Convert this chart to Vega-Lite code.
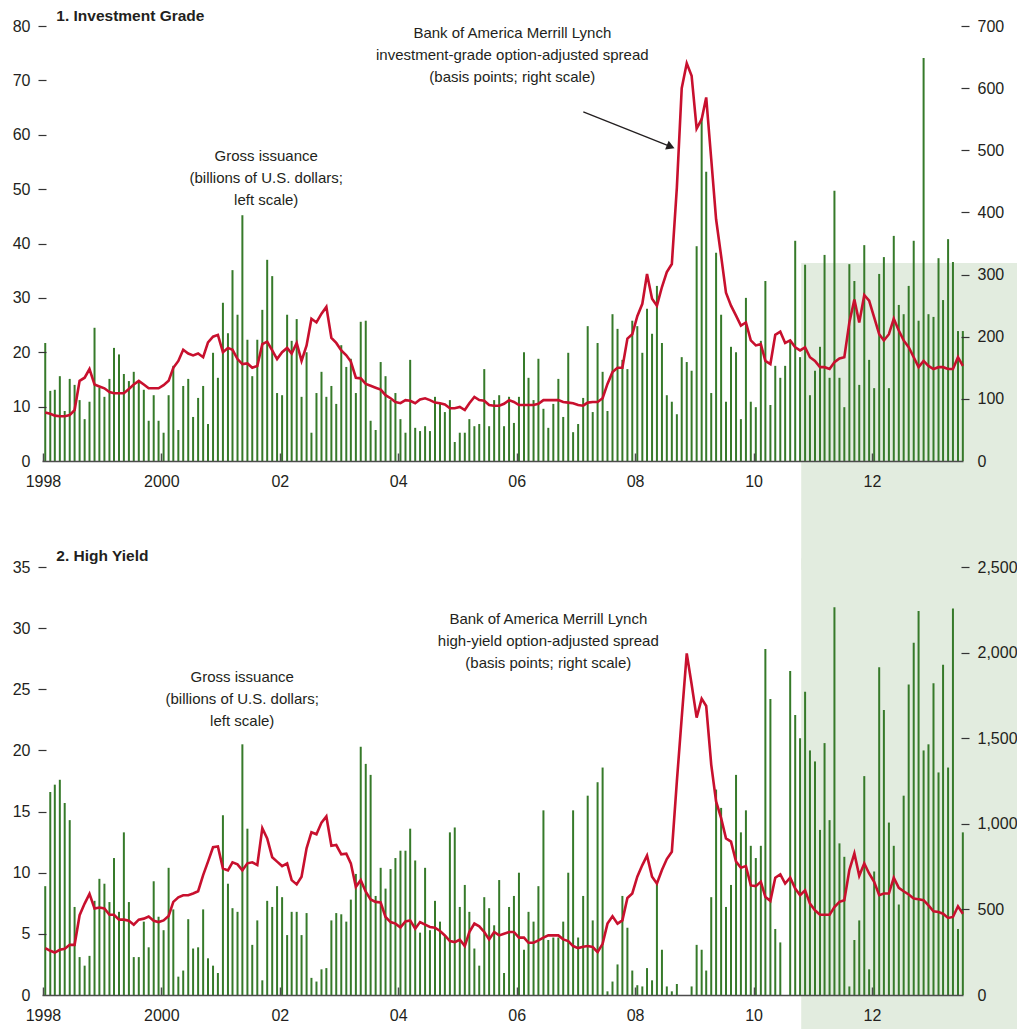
{
  "$schema": "https://vega.github.io/schema/vega-lite/v6.json",
  "background": "white",
  "padding": {"left": 12, "top": 8, "right": 0, "bottom": 0},
  "bounds": "flush",
  "spacing": 106,
  "config": {
    "view": {"stroke": null},
    "font": "Liberation Sans",
    "axis": {"labelFont": "Liberation Sans", "labelFontSize": 16, "labelColor": "#231f20", "grid": false, "zindex": 1, "tickColor": "#333333", "domain": false}
  },
  "datasets": {
    "m": [
      {"d":"1998-01-15","ig":21.7,"igs":78,"hy":8.9,"hys":274},
      {"d":"1998-02-15","ig":12.9,"igs":76,"hy":16.6,"hys":258},
      {"d":"1998-03-15","ig":13.1,"igs":73,"hy":17.2,"hys":248},
      {"d":"1998-04-15","ig":15.6,"igs":72,"hy":17.6,"hys":264},
      {"d":"1998-05-15","ig":9.2,"igs":72,"hy":15.7,"hys":270},
      {"d":"1998-06-15","ig":15.1,"igs":74,"hy":14.3,"hys":293},
      {"d":"1998-07-15","ig":14.0,"igs":82,"hy":7.2,"hys":293},
      {"d":"1998-08-15","ig":11.2,"igs":129,"hy":3.1,"hys":466},
      {"d":"1998-09-15","ig":7.7,"igs":134,"hy":2.4,"hys":534},
      {"d":"1998-10-15","ig":10.9,"igs":148,"hy":3.2,"hys":591},
      {"d":"1998-11-15","ig":24.5,"igs":123,"hy":7.7,"hys":505},
      {"d":"1998-12-15","ig":13.5,"igs":120,"hy":9.5,"hys":511},
      {"d":"1999-01-15","ig":11.8,"igs":117,"hy":9.1,"hys":505},
      {"d":"1999-02-15","ig":15.1,"igs":111,"hy":7.6,"hys":469},
      {"d":"1999-03-15","ig":20.8,"igs":109,"hy":11.2,"hys":469},
      {"d":"1999-04-15","ig":19.6,"igs":109,"hy":6.8,"hys":440},
      {"d":"1999-05-15","ig":16.0,"igs":109,"hy":13.3,"hys":440},
      {"d":"1999-06-15","ig":14.7,"igs":116,"hy":7.6,"hys":434},
      {"d":"1999-07-15","ig":16.4,"igs":123,"hy":3.1,"hys":411},
      {"d":"1999-08-15","ig":14.5,"igs":129,"hy":3.1,"hys":440},
      {"d":"1999-09-15","ig":13.1,"igs":123,"hy":6.0,"hys":446},
      {"d":"1999-10-15","ig":7.4,"igs":117,"hy":3.9,"hys":458},
      {"d":"1999-11-15","ig":12.1,"igs":117,"hy":9.3,"hys":434},
      {"d":"1999-12-15","ig":7.4,"igs":117,"hy":6.4,"hys":426},
      {"d":"2000-01-15","ig":5.2,"igs":122,"hy":5.3,"hys":436},
      {"d":"2000-02-15","ig":12.1,"igs":129,"hy":10.4,"hys":462},
      {"d":"2000-03-15","ig":17.5,"igs":150,"hy":7.0,"hys":544},
      {"d":"2000-04-15","ig":5.7,"igs":161,"hy":1.5,"hys":571},
      {"d":"2000-05-15","ig":13.8,"igs":179,"hy":2.0,"hys":583},
      {"d":"2000-06-15","ig":15.1,"igs":173,"hy":6.2,"hys":583},
      {"d":"2000-07-15","ig":8.1,"igs":170,"hy":3.8,"hys":593},
      {"d":"2000-08-15","ig":11.6,"igs":173,"hy":3.9,"hys":606},
      {"d":"2000-09-15","ig":13.8,"igs":167,"hy":7.0,"hys":700},
      {"d":"2000-10-15","ig":6.8,"igs":191,"hy":3.0,"hys":779},
      {"d":"2000-11-15","ig":19.9,"igs":200,"hy":2.4,"hys":863},
      {"d":"2000-12-15","ig":15.3,"igs":203,"hy":1.8,"hys":867},
      {"d":"2001-01-15","ig":29.1,"igs":175,"hy":14.7,"hys":739},
      {"d":"2001-02-15","ig":23.5,"igs":182,"hy":9.1,"hys":728},
      {"d":"2001-03-15","ig":35.1,"igs":179,"hy":7.1,"hys":775},
      {"d":"2001-04-15","ig":26.9,"igs":164,"hy":6.8,"hys":763},
      {"d":"2001-05-15","ig":45.2,"igs":156,"hy":20.5,"hys":728},
      {"d":"2001-06-15","ig":22.3,"igs":157,"hy":13.6,"hys":769},
      {"d":"2001-07-15","ig":15.6,"igs":150,"hy":4.1,"hys":775},
      {"d":"2001-08-15","ig":22.3,"igs":153,"hy":6.1,"hys":759},
      {"d":"2001-09-15","ig":27.8,"igs":188,"hy":1.2,"hys":974},
      {"d":"2001-10-15","ig":37.0,"igs":192,"hy":7.7,"hys":915},
      {"d":"2001-11-15","ig":34.0,"igs":178,"hy":7.2,"hys":805},
      {"d":"2001-12-15","ig":12.5,"igs":164,"hy":8.9,"hys":779},
      {"d":"2002-01-15","ig":12.1,"igs":175,"hy":8.0,"hys":753},
      {"d":"2002-02-15","ig":26.9,"igs":182,"hy":4.9,"hys":769},
      {"d":"2002-03-15","ig":22.1,"igs":173,"hy":6.8,"hys":671},
      {"d":"2002-04-15","ig":26.1,"igs":190,"hy":6.8,"hys":646},
      {"d":"2002-05-15","ig":11.8,"igs":161,"hy":4.9,"hys":691},
      {"d":"2002-06-15","ig":20.0,"igs":186,"hy":6.7,"hys":857},
      {"d":"2002-07-15","ig":5.2,"igs":229,"hy":1.4,"hys":951},
      {"d":"2002-08-15","ig":12.5,"igs":223,"hy":1.1,"hys":939},
      {"d":"2002-09-15","ig":16.4,"igs":237,"hy":2.1,"hys":1007},
      {"d":"2002-10-15","ig":11.8,"igs":248,"hy":2.2,"hys":1043},
      {"d":"2002-11-15","ig":13.8,"igs":198,"hy":6.1,"hys":872},
      {"d":"2002-12-15","ig":10.5,"igs":190,"hy":6.7,"hys":876},
      {"d":"2003-01-15","ig":21.3,"igs":178,"hy":6.6,"hys":822},
      {"d":"2003-02-15","ig":17.3,"igs":170,"hy":6.0,"hys":826},
      {"d":"2003-03-15","ig":18.8,"igs":160,"hy":7.8,"hys":769},
      {"d":"2003-04-15","ig":12.5,"igs":134,"hy":9.9,"hys":632},
      {"d":"2003-05-15","ig":25.6,"igs":133,"hy":20.3,"hys":671},
      {"d":"2003-06-15","ig":25.8,"igs":124,"hy":18.9,"hys":603},
      {"d":"2003-07-15","ig":7.4,"igs":121,"hy":18.0,"hys":558},
      {"d":"2003-08-15","ig":5.7,"igs":118,"hy":8.1,"hys":544},
      {"d":"2003-09-15","ig":18.2,"igs":115,"hy":10.4,"hys":540},
      {"d":"2003-10-15","ig":15.6,"igs":106,"hy":8.7,"hys":456},
      {"d":"2003-11-15","ig":11.2,"igs":101,"hy":10.3,"hys":426},
      {"d":"2003-12-15","ig":12.5,"igs":95,"hy":11.2,"hys":417},
      {"d":"2004-01-15","ig":7.7,"igs":93,"hy":11.8,"hys":395},
      {"d":"2004-02-15","ig":5.2,"igs":98,"hy":11.8,"hys":430},
      {"d":"2004-03-15","ig":18.6,"igs":97,"hy":13.6,"hys":436},
      {"d":"2004-04-15","ig":6.1,"igs":93,"hy":11.0,"hys":387},
      {"d":"2004-05-15","ig":5.5,"igs":99,"hy":5.1,"hys":426},
      {"d":"2004-06-15","ig":6.4,"igs":101,"hy":10.4,"hys":411},
      {"d":"2004-07-15","ig":5.5,"igs":98,"hy":5.3,"hys":397},
      {"d":"2004-08-15","ig":11.8,"igs":94,"hy":7.7,"hys":393},
      {"d":"2004-09-15","ig":10.5,"igs":93,"hy":6.0,"hys":374},
      {"d":"2004-10-15","ig":9.0,"igs":91,"hy":4.9,"hys":348},
      {"d":"2004-11-15","ig":11.2,"igs":85,"hy":13.3,"hys":315},
      {"d":"2004-12-15","ig":3.5,"igs":85,"hy":13.7,"hys":309},
      {"d":"2005-01-15","ig":5.2,"igs":87,"hy":7.2,"hys":323},
      {"d":"2005-02-15","ig":5.2,"igs":82,"hy":9.0,"hys":286},
      {"d":"2005-03-15","ig":7.7,"igs":93,"hy":6.8,"hys":368},
      {"d":"2005-04-15","ig":6.4,"igs":103,"hy":3.8,"hys":417},
      {"d":"2005-05-15","ig":6.8,"igs":98,"hy":2.4,"hys":401},
      {"d":"2005-06-15","ig":16.9,"igs":97,"hy":8.0,"hys":368},
      {"d":"2005-07-15","ig":6.4,"igs":90,"hy":7.1,"hys":325},
      {"d":"2005-08-15","ig":11.2,"igs":89,"hy":5.7,"hys":368},
      {"d":"2005-09-15","ig":12.1,"igs":89,"hy":9.4,"hys":348},
      {"d":"2005-10-15","ig":6.4,"igs":92,"hy":1.8,"hys":358},
      {"d":"2005-11-15","ig":11.8,"igs":98,"hy":7.2,"hys":368},
      {"d":"2005-12-15","ig":7.0,"igs":95,"hy":8.1,"hys":368},
      {"d":"2006-01-15","ig":11.8,"igs":90,"hy":10.0,"hys":335},
      {"d":"2006-02-15","ig":20.0,"igs":90,"hy":3.7,"hys":335},
      {"d":"2006-03-15","ig":15.3,"igs":90,"hy":6.8,"hys":305},
      {"d":"2006-04-15","ig":11.2,"igs":90,"hy":6.0,"hys":305},
      {"d":"2006-05-15","ig":18.8,"igs":92,"hy":8.9,"hys":319},
      {"d":"2006-06-15","ig":9.6,"igs":98,"hy":15.1,"hys":335},
      {"d":"2006-07-15","ig":6.1,"igs":98,"hy":4.5,"hys":348},
      {"d":"2006-08-15","ig":10.5,"igs":98,"hy":4.7,"hys":348},
      {"d":"2006-09-15","ig":15.1,"igs":98,"hy":4.7,"hys":348},
      {"d":"2006-10-15","ig":8.1,"igs":95,"hy":6.0,"hys":325},
      {"d":"2006-11-15","ig":19.9,"igs":94,"hy":10.0,"hys":315},
      {"d":"2006-12-15","ig":5.3,"igs":93,"hy":15.1,"hys":286},
      {"d":"2007-01-15","ig":6.8,"igs":90,"hy":4.7,"hys":274},
      {"d":"2007-02-15","ig":11.6,"igs":89,"hy":8.1,"hys":282},
      {"d":"2007-03-15","ig":24.8,"igs":94,"hy":16.3,"hys":286},
      {"d":"2007-04-15","ig":9.0,"igs":95,"hy":6.1,"hys":280},
      {"d":"2007-05-15","ig":21.7,"igs":95,"hy":17.4,"hys":250},
      {"d":"2007-06-15","ig":16.4,"igs":101,"hy":18.6,"hys":299},
      {"d":"2007-07-15","ig":9.2,"igs":124,"hy":0.3,"hys":417},
      {"d":"2007-08-15","ig":27.0,"igs":143,"hy":1.1,"hys":460},
      {"d":"2007-09-15","ig":24.3,"igs":150,"hy":2.5,"hys":417},
      {"d":"2007-10-15","ig":18.6,"igs":150,"hy":8.1,"hys":436},
      {"d":"2007-11-15","ig":16.9,"igs":197,"hy":5.5,"hys":567},
      {"d":"2007-12-15","ig":25.8,"igs":204,"hy":2.0,"hys":593},
      {"d":"2008-01-15","ig":24.8,"igs":233,"hy":0.8,"hys":691},
      {"d":"2008-02-15","ig":19.9,"igs":253,"hy":0.7,"hys":759},
      {"d":"2008-03-15","ig":28.0,"igs":301,"hy":2.2,"hys":814},
      {"d":"2008-04-15","ig":23.4,"igs":261,"hy":1.2,"hys":691},
      {"d":"2008-05-15","ig":32.2,"igs":250,"hy":9.1,"hys":651},
      {"d":"2008-06-15","ig":21.7,"igs":280,"hy":3.7,"hys":730},
      {"d":"2008-07-15","ig":12.1,"igs":304,"hy":0.7,"hys":794},
      {"d":"2008-08-15","ig":10.9,"igs":317,"hy":0.3,"hys":837},
      {"d":"2008-09-15","ig":8.6,"igs":440,"hy":0.9,"hys":1248},
      {"d":"2008-10-15","ig":19.1,"igs":600,"hy":0,"hys":1620},
      {"d":"2008-11-15","ig":18.2,"igs":640,"hy":0,"hys":1995},
      {"d":"2008-12-15","ig":16.6,"igs":620,"hy":0.7,"hys":1815},
      {"d":"2009-01-15","ig":39.5,"igs":535,"hy":4.1,"hys":1620},
      {"d":"2009-02-15","ig":63.1,"igs":550,"hy":3.7,"hys":1731},
      {"d":"2009-03-15","ig":53.2,"igs":585,"hy":2.0,"hys":1688},
      {"d":"2009-04-15","ig":12.5,"igs":486,"hy":8.0,"hys":1346},
      {"d":"2009-05-15","ig":38.3,"igs":389,"hy":16.8,"hys":1131},
      {"d":"2009-06-15","ig":26.9,"igs":330,"hy":15.3,"hys":1033},
      {"d":"2009-07-15","ig":10.9,"igs":271,"hy":7.2,"hys":915},
      {"d":"2009-08-15","ig":21.0,"igs":250,"hy":9.0,"hys":896},
      {"d":"2009-09-15","ig":20.0,"igs":234,"hy":18.0,"hys":779},
      {"d":"2009-10-15","ig":7.7,"igs":218,"hy":13.3,"hys":743},
      {"d":"2009-11-15","ig":30.0,"igs":223,"hy":15.1,"hys":753},
      {"d":"2009-12-15","ig":10.9,"igs":194,"hy":12.2,"hys":640},
      {"d":"2010-01-15","ig":9.9,"igs":186,"hy":11.2,"hys":636},
      {"d":"2010-02-15","ig":22.1,"igs":188,"hy":12.2,"hys":661},
      {"d":"2010-03-15","ig":33.1,"igs":161,"hy":28.3,"hys":573},
      {"d":"2010-04-15","ig":10.3,"igs":156,"hy":24.2,"hys":550},
      {"d":"2010-05-15","ig":17.5,"igs":203,"hy":5.4,"hys":685},
      {"d":"2010-06-15","ig":15.3,"igs":208,"hy":4.3,"hys":704},
      {"d":"2010-07-15","ig":17.5,"igs":190,"hy":0,"hys":651},
      {"d":"2010-08-15","ig":22.1,"igs":194,"hy":26.5,"hys":685},
      {"d":"2010-09-15","ig":40.5,"igs":183,"hy":22.9,"hys":622},
      {"d":"2010-10-15","ig":19.1,"igs":178,"hy":21.0,"hys":583},
      {"d":"2010-11-15","ig":36.1,"igs":183,"hy":24.8,"hys":612},
      {"d":"2010-12-15","ig":12.1,"igs":167,"hy":20.0,"hys":534},
      {"d":"2011-01-15","ig":16.6,"igs":161,"hy":19.1,"hys":495},
      {"d":"2011-02-15","ig":21.0,"igs":151,"hy":13.5,"hys":469},
      {"d":"2011-03-15","ig":37.9,"igs":151,"hy":20.6,"hys":469},
      {"d":"2011-04-15","ig":15.3,"igs":148,"hy":14.3,"hys":469},
      {"d":"2011-05-15","ig":49.7,"igs":159,"hy":31.7,"hys":514},
      {"d":"2011-06-15","ig":15.3,"igs":165,"hy":12.4,"hys":544},
      {"d":"2011-07-15","ig":9.9,"igs":167,"hy":11.3,"hys":554},
      {"d":"2011-08-15","ig":36.2,"igs":223,"hy":0.7,"hys":730},
      {"d":"2011-09-15","ig":33.1,"igs":260,"hy":4.5,"hys":827},
      {"d":"2011-10-15","ig":14.0,"igs":223,"hy":6.1,"hys":696},
      {"d":"2011-11-15","ig":39.7,"igs":267,"hy":17.9,"hys":769},
      {"d":"2011-12-15","ig":18.6,"igs":258,"hy":2.1,"hys":710},
      {"d":"2012-01-15","ig":13.4,"igs":231,"hy":10.1,"hys":661},
      {"d":"2012-02-15","ig":34.4,"igs":204,"hy":26.8,"hys":583},
      {"d":"2012-03-15","ig":37.5,"igs":194,"hy":23.3,"hys":593},
      {"d":"2012-04-15","ig":13.4,"igs":204,"hy":14.1,"hys":593},
      {"d":"2012-05-15","ig":41.4,"igs":229,"hy":12.2,"hys":685},
      {"d":"2012-06-15","ig":28.7,"igs":210,"hy":7.4,"hys":626},
      {"d":"2012-07-15","ig":27.0,"igs":194,"hy":16.3,"hys":606},
      {"d":"2012-08-15","ig":32.2,"igs":183,"hy":25.4,"hys":587},
      {"d":"2012-09-15","ig":40.5,"igs":167,"hy":28.8,"hys":563},
      {"d":"2012-10-15","ig":25.8,"igs":151,"hy":31.4,"hys":559},
      {"d":"2012-11-15","ig":74.1,"igs":161,"hy":20.0,"hys":554},
      {"d":"2012-12-15","ig":27.0,"igs":153,"hy":20.5,"hys":524},
      {"d":"2013-01-15","ig":26.5,"igs":148,"hy":25.5,"hys":489},
      {"d":"2013-02-15","ig":37.3,"igs":151,"hy":18.2,"hys":485},
      {"d":"2013-03-15","ig":29.6,"igs":151,"hy":27.0,"hys":475},
      {"d":"2013-04-15","ig":40.8,"igs":148,"hy":18.6,"hys":450},
      {"d":"2013-05-15","ig":36.6,"igs":148,"hy":31.6,"hys":456},
      {"d":"2013-06-15","ig":23.9,"igs":167,"hy":5.4,"hys":518},
      {"d":"2013-07-15","ig":23.9,"igs":153,"hy":13.3,"hys":475}
    ]
  },
  "vconcat": [
    {
      "width": 921,
      "height": 435,
      "data": {"name": "m"},
      "resolve": {"scale": {"y": "independent"}},
      "layer": [
        {
          "data": {"values": [{}]},
          "mark": {"type": "rect", "color": "#e2ecdf", "clip": false},
          "encoding": {
            "x": {"datum": {"year": 2010, "month": 10, "date": 22, "utc": true}, "type": "temporal"},
            "x2": {"datum": {"year": 2014, "month": 7, "date": 1, "utc": true}},
            "y": {"datum": 36.4, "type": "quantitative", "scale": {"domain": [0, 80]}, "axis": null},
            "y2": {"datum": -20}
          }
        },
        {
          "mark": {"type": "bar", "size": 2, "color": "#367a2a"},
          "encoding": {
            "x": {
              "field": "d", "type": "temporal",
              "scale": {"type": "utc", "padding": 0, "domain": [{"year": 1997, "month": 12, "date": 26, "utc": true}, {"year": 2013, "month": 7, "date": 16, "utc": true}]},
              "axis": {
                "title": null, "zindex": 1, "labelFlush": false,
                "values": [{"year": 1998, "month": 1, "date": 1, "utc": true}, {"year": 2000, "month": 1, "date": 1, "utc": true}, {"year": 2002, "month": 1, "date": 1, "utc": true}, {"year": 2004, "month": 1, "date": 1, "utc": true}, {"year": 2006, "month": 1, "date": 1, "utc": true}, {"year": 2008, "month": 1, "date": 1, "utc": true}, {"year": 2010, "month": 1, "date": 1, "utc": true}, {"year": 2012, "month": 1, "date": 1, "utc": true}],
                "labelExpr": "utcyear(datum.value) <= 2000 ? utcFormat(datum.value, '%Y') : utcFormat(datum.value, '%y')",
                "domain": true, "domainColor": "#4d4d4d", "domainWidth": 1.5,
                "tickSize": -8, "tickColor": "#4d4d4d", "tickWidth": 1.5,
                "labelPadding": 20
              }
            },
            "y": {
              "field": "ig", "type": "quantitative",
              "scale": {"domain": [0, 80]},
              "axis": {"title": null, "zindex": 1, "orient": "left", "values": [0, 10, 20, 30, 40, 50, 60, 70, 80], "offset": -4, "tickSize": 8, "tickWidth": 1.2, "labelPadding": 8,
                "tickOpacity": {"condition": {"test": "datum.value == 0", "value": 0}, "value": 1}}
            }
          }
        },
        {
          "mark": {"type": "line", "color": "#c8102e", "strokeWidth": 2.6},
          "encoding": {
            "x": {"field": "d", "type": "temporal"},
            "y": {
              "field": "igs", "type": "quantitative",
              "scale": {"domain": [0, 700]},
              "axis": {"title": null, "zindex": 1, "orient": "right", "values": [0, 100, 200, 300, 400, 500, 600, 700], "offset": -2, "tickSize": 8, "tickWidth": 1.2, "labelPadding": 8, "format": ",.0f",
                "tickOpacity": {"condition": {"test": "datum.value == 0", "value": 0}, "value": 1}}
            }
          }
        },
        {
          "data": {"values": [{}]},
          "mark": {"type": "text", "align": "left", "baseline": "middle", "fontSize": 15.5, "fontWeight": "bold", "color": "#231f20", "clip": false},
          "encoding": {
            "x": {"datum": {"year": 1998, "month": 3, "date": 24, "utc": true}, "type": "temporal"},
            "y": {"datum": 81.84, "type": "quantitative", "scale": {"domain": [0, 80]}, "axis": null},
            "text": {"value": "1. Investment Grade"}
          }
        },
        {
          "data": {"values": [{}]},
          "mark": {"type": "text", "align": "center", "baseline": "top", "fontSize": 15, "lineHeight": 22, "color": "#231f20", "clip": false},
          "encoding": {
            "x": {"datum": {"year": 2001, "month": 10, "date": 9, "utc": true}, "type": "temporal"},
            "y": {"datum": 57.29, "type": "quantitative", "scale": {"domain": [0, 80]}, "axis": null},
            "text": {"value": ["Gross issuance", "(billions of U.S. dollars;", "left scale)"]}
          }
        },
        {
          "data": {"values": [{}]},
          "mark": {"type": "text", "align": "center", "baseline": "top", "fontSize": 15, "lineHeight": 22, "color": "#231f20", "clip": false},
          "encoding": {
            "x": {"datum": {"year": 2005, "month": 12, "date": 5, "utc": true}, "type": "temporal"},
            "y": {"datum": 80.09, "type": "quantitative", "scale": {"domain": [0, 80]}, "axis": null},
            "text": {"value": ["Bank of America Merrill Lynch", "investment-grade option-adjusted spread", "(basis points; right scale)"]}
          }
        },
        {
          "data": {"values": [{}]},
          "mark": {"type": "rule", "color": "#231f20", "strokeWidth": 1.3, "clip": false},
          "encoding": {
            "x": {"datum": {"year": 2007, "month": 2, "date": 16, "utc": true}, "type": "temporal"},
            "x2": {"datum": {"year": 2008, "month": 8, "date": 8, "utc": true}},
            "y": {"datum": 64.2, "type": "quantitative", "scale": {"domain": [0, 80]}, "axis": null},
            "y2": {"datum": 57.82}
          }
        },
        {
          "data": {"values": [{}]},
          "mark": {"type": "point", "shape": "triangle-right", "filled": true, "color": "#231f20", "size": 90, "angle": 22, "opacity": 1, "clip": false},
          "encoding": {
            "x": {"datum": {"year": 2008, "month": 8, "date": 8, "utc": true}, "type": "temporal"},
            "y": {"datum": 57.82, "type": "quantitative", "scale": {"domain": [0, 80]}, "axis": null}
          }
        }
      ]
    },
    {
      "width": 921,
      "height": 428,
      "data": {"name": "m"},
      "resolve": {"scale": {"y": "independent"}},
      "layer": [
        {
          "data": {"values": [{}]},
          "mark": {"type": "rect", "color": "#e2ecdf", "clip": false},
          "encoding": {
            "x": {"datum": {"year": 2010, "month": 10, "date": 22, "utc": true}, "type": "temporal"},
            "x2": {"datum": {"year": 2014, "month": 7, "date": 1, "utc": true}},
            "y": {"datum": 35.7, "type": "quantitative", "scale": {"domain": [0, 35]}, "axis": null},
            "y2": {"datum": -6}
          }
        },
        {
          "mark": {"type": "bar", "size": 2, "color": "#367a2a"},
          "encoding": {
            "x": {
              "field": "d", "type": "temporal",
              "scale": {"type": "utc", "padding": 0, "domain": [{"year": 1997, "month": 12, "date": 26, "utc": true}, {"year": 2013, "month": 7, "date": 16, "utc": true}]},
              "axis": {
                "title": null, "zindex": 1, "labelFlush": false,
                "values": [{"year": 1998, "month": 1, "date": 1, "utc": true}, {"year": 2000, "month": 1, "date": 1, "utc": true}, {"year": 2002, "month": 1, "date": 1, "utc": true}, {"year": 2004, "month": 1, "date": 1, "utc": true}, {"year": 2006, "month": 1, "date": 1, "utc": true}, {"year": 2008, "month": 1, "date": 1, "utc": true}, {"year": 2010, "month": 1, "date": 1, "utc": true}, {"year": 2012, "month": 1, "date": 1, "utc": true}],
                "labelExpr": "utcyear(datum.value) <= 2000 ? utcFormat(datum.value, '%Y') : utcFormat(datum.value, '%y')",
                "domain": true, "domainColor": "#4d4d4d", "domainWidth": 1.5,
                "tickSize": -8, "tickColor": "#4d4d4d", "tickWidth": 1.5,
                "labelPadding": 20
              }
            },
            "y": {
              "field": "hy", "type": "quantitative",
              "scale": {"domain": [0, 35]},
              "axis": {"title": null, "zindex": 1, "orient": "left", "values": [0, 5, 10, 15, 20, 25, 30, 35], "offset": -4, "tickSize": 8, "tickWidth": 1.2, "labelPadding": 8,
                "tickOpacity": {"condition": {"test": "datum.value == 0", "value": 0}, "value": 1}}
            }
          }
        },
        {
          "mark": {"type": "line", "color": "#c8102e", "strokeWidth": 2.6},
          "encoding": {
            "x": {"field": "d", "type": "temporal"},
            "y": {
              "field": "hys", "type": "quantitative",
              "scale": {"domain": [0, 2500]},
              "axis": {"title": null, "zindex": 1, "orient": "right", "values": [0, 500, 1000, 1500, 2000, 2500], "offset": -2, "tickSize": 8, "tickWidth": 1.2, "labelPadding": 8, "format": ",.0f",
                "tickOpacity": {"condition": {"test": "datum.value == 0", "value": 0}, "value": 1}}
            }
          }
        },
        {
          "data": {"values": [{}]},
          "mark": {"type": "text", "align": "left", "baseline": "middle", "fontSize": 15.5, "fontWeight": "bold", "color": "#231f20", "clip": false},
          "encoding": {
            "x": {"datum": {"year": 1998, "month": 3, "date": 24, "utc": true}, "type": "temporal"},
            "y": {"datum": 35.9, "type": "quantitative", "scale": {"domain": [0, 35]}, "axis": null},
            "text": {"value": "2. High Yield"}
          }
        },
        {
          "data": {"values": [{}]},
          "mark": {"type": "text", "align": "center", "baseline": "top", "fontSize": 15, "lineHeight": 22, "color": "#231f20", "clip": false},
          "encoding": {
            "x": {"datum": {"year": 2001, "month": 5, "date": 14, "utc": true}, "type": "temporal"},
            "y": {"datum": 26.61, "type": "quantitative", "scale": {"domain": [0, 35]}, "axis": null},
            "text": {"value": ["Gross issuance", "(billions of U.S. dollars;", "left scale)"]}
          }
        },
        {
          "data": {"values": [{}]},
          "mark": {"type": "text", "align": "center", "baseline": "top", "fontSize": 15, "lineHeight": 22, "color": "#231f20", "clip": false},
          "encoding": {
            "x": {"datum": {"year": 2006, "month": 7, "date": 15, "utc": true}, "type": "temporal"},
            "y": {"datum": 31.36, "type": "quantitative", "scale": {"domain": [0, 35]}, "axis": null},
            "text": {"value": ["Bank of America Merrill Lynch", "high-yield option-adjusted spread", "(basis points; right scale)"]}
          }
        }
      ]
    }
  ]
}
